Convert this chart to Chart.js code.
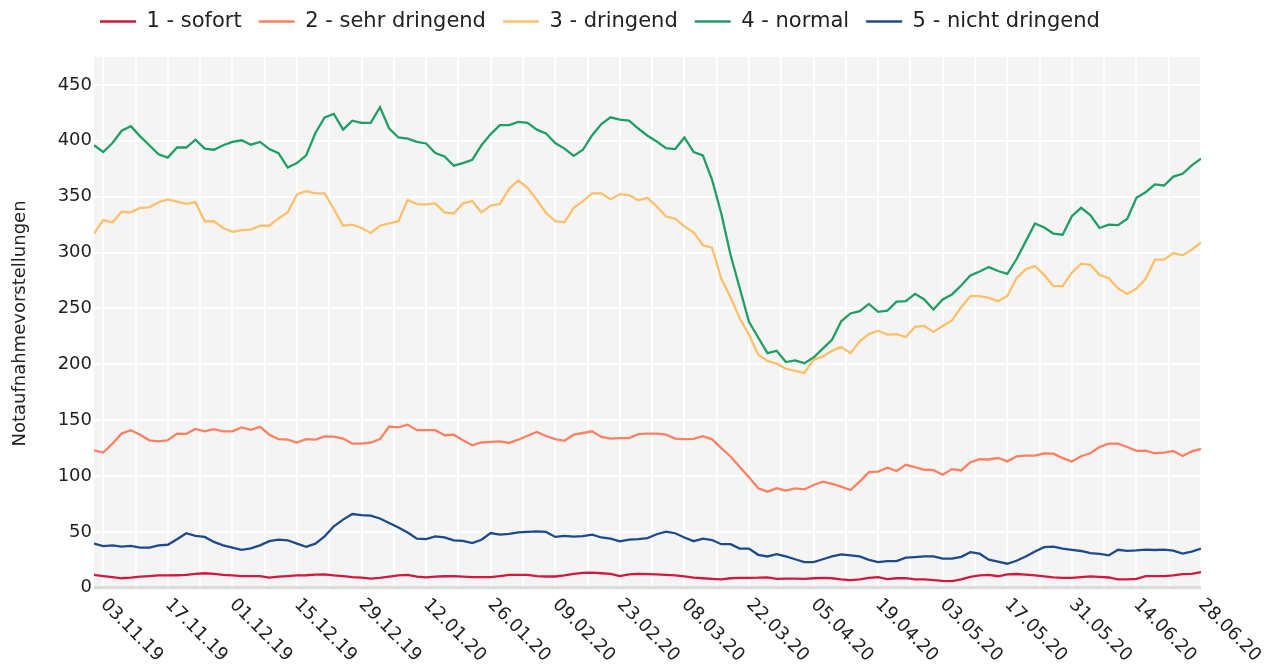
<!DOCTYPE html>
<html>
<head>
<meta charset="utf-8">
<script src="https://cdn.jsdelivr.net/npm/chart.js@4.4.1/dist/chart.umd.min.js"></script>
<style>
  html, body { margin: 0; padding: 0; background: #fff; }
  #wrap { position: relative; width: 1272px; height: 666px; }
</style>
</head>
<body>
<div id="wrap"><canvas id="chart"></canvas></div>
<script>
// ── DATA ──────────────────────────────────────────────────────────────────
// x = days relative to 03.11.19, one value every 2 days from 01.11.19 to 28.06.20
const firstDay = -2;
const dayStep  = 2;

const sofort = [
  11.5, 10.5, 9.5, 8.5, 9, 10, 10.5, 11, 11, 11.2, 11.5, 12.5, 13, 12.5, 11.5, 11, 10.5, 10.5, 10.5, 9, 10, 10.5, 11, 11.2, 11.8, 12, 11, 10.5, 9.5, 9,
  8.2, 8.8, 10, 11, 11.5, 10, 9.3, 10, 10.3, 10.4, 10, 9.6, 9.5, 9.5, 10.5, 11.5, 11.6, 11.6, 10.5, 10.1, 10.1, 11, 12.5, 13.3, 13.5, 13, 12.5, 10.5, 12, 12.5,
  12.2, 12, 11.5, 11, 10.2, 9, 8.5, 8, 7.5, 8.5, 8.9, 8.9, 9, 9.3, 8, 8.2, 8.2, 8, 8.5, 8.9, 8.5, 7.5, 6.8, 7.5, 8.8, 9.5, 7.8, 8.5, 8.6, 7.5,
  7.5, 6.8, 6.2, 6, 7.5, 9.8, 11, 11.5, 10.3, 11.9, 12.3, 11.8, 11, 10.1, 9.3, 8.9, 8.9, 9.5, 10.2, 9.8, 9.2, 7.5, 7.5, 8, 10.4, 10.4, 10.4, 11, 12.2, 12.5, 14
];
const sehrDringend = [
  123, 121, 129, 138, 141, 137, 132, 131, 132, 138, 137.8, 142.2, 140, 142, 140, 140, 143.5, 141.3, 144, 137, 133, 132.5, 130, 133, 132.6, 135.5, 135.3, 133.5, 129, 129,
  130, 133, 144.3, 143.5, 146, 141, 141, 141, 136.5, 137, 132, 127.5, 130, 130.5, 131, 129.6, 132.5, 136, 139.5, 135.8, 133, 131.5, 137, 138.5, 140, 135, 133.5, 134, 134, 137.5,
  138, 138, 137, 133.5, 133, 133.3, 135.6, 132.8, 125, 117.5, 108, 99, 89, 86, 89, 87, 89, 88, 92, 95, 93, 90.5, 87.5, 95, 103.5, 104, 107.5, 104.5, 110, 108,
  105.6, 105.3, 101.2, 106.2, 105, 112.4, 115, 114.8, 116.1, 113.1, 117.5, 118.2, 118.2, 120.3, 120, 116, 113, 117.7, 120.4, 126, 129, 129, 126, 122.5, 122.8, 120.4, 121, 122.5, 118, 122, 124.2
];
const dringend = [
  317, 329, 327, 336.5, 336, 340, 340.5, 345, 347.5, 345.5, 343.5, 345, 328, 328, 322, 318.5, 320, 320.5, 324, 324, 330.5, 336, 352, 355, 353, 353, 339, 324, 325, 322,
  317.5, 324, 326, 328, 347, 343.3, 343, 344, 336, 335, 344, 346, 336, 342, 343.5, 357, 364.5, 358, 347, 335.5, 328, 327, 340, 346, 353, 353, 347.5, 352.3, 351.5, 346.8,
  349, 341.2, 332.3, 330.3, 323.4, 318, 306.5, 304.4, 276.5, 260, 241, 226.4, 208.6, 203, 200.5, 196, 194, 192.3, 204, 207, 212, 215.7, 210, 220.5, 227, 230, 226.5, 227, 224.5, 233.5,
  234.3, 229, 234.3, 239.3, 251, 261, 261, 259.5, 256.5, 261, 277, 285, 288, 280, 270, 270, 282, 290, 289, 280, 277, 268, 263, 267.8, 276.5, 293.6, 293.6, 299.5, 297.5, 302.6, 309
];
const normal = [
  396, 390, 398, 409, 413, 404, 396, 388, 385, 394, 394, 401, 393, 392, 396, 399, 400.5, 396.5, 399, 392.6, 389, 376, 380, 387, 407, 421, 424, 410, 418, 416,
  416, 430, 411, 403, 402, 399, 397.6, 389, 386, 377.7, 380, 383, 396, 406, 414, 414, 417, 416, 410, 406.5, 398, 393, 386.5, 392, 405, 415, 421, 419, 418, 411,
  404.5, 399.4, 393.5, 392.6, 403, 390, 387, 365, 335, 298, 268, 238, 224, 210, 212, 202, 203.5, 201, 206, 214, 222, 238.5, 245.5, 247.5, 254, 247, 248, 256, 256.5, 263,
  258, 249, 258, 262.5, 270.5, 279.5, 283, 287, 283.5, 281, 294, 310, 326, 322.4, 317, 316, 332.5, 340, 333.5, 322, 325, 324.5, 330, 349, 354, 361, 360, 368, 370.5, 378, 384
];
const nichtDringend = [
  39.5, 37.2, 38, 36.8, 37.5, 36, 36, 38, 38.5, 43.5, 48.8, 46.5, 45.5, 41, 38, 36, 34, 35.3, 38, 41.7, 43, 42.5, 39.5, 36.7, 39.5, 46, 55, 61, 66, 65,
  64.5, 62, 58, 54, 49.5, 44, 43.5, 46, 45, 42.5, 42, 40, 43, 49, 47.5, 48.3, 49.5, 50, 50.5, 50, 45.5, 46.5, 45.8, 46.3, 47.5, 45, 44, 41.5, 43, 43.5,
  44.5, 47.9, 50.3, 48.8, 45, 41.7, 44, 42.7, 39, 39, 35, 35, 29.5, 28, 30, 28, 25.5, 23, 23, 25.5, 28, 29.9, 29, 28, 25, 23, 23.9, 23.9, 27, 27.5,
  28.1, 28.1, 26, 26, 27.7, 31.8, 30.5, 25.1, 23.3, 21.5, 24.2, 28, 32.4, 36.3, 36.8, 35, 34, 32.9, 31, 30.3, 29, 34, 33, 33.5, 34.2, 33.8, 34.1, 33.2, 30.6, 32.4, 35
];

const seriesLabels = ['1 - sofort', '2 - sehr dringend', '3 - dringend', '4 - normal', '5 - nicht dringend'];
const seriesColors = ['#d3173f', '#ff8061', '#fdc06a', '#1f9f63', '#1d4a8b'];
const seriesValues = [sofort, sehrDringend, dringend, normal, nichtDringend];

const tickDays   = [0, 14, 28, 42, 56, 70, 84, 98, 112, 126, 140, 154, 168, 182, 196, 210, 224, 238];
const tickLabels = ['03.11.19', '17.11.19', '01.12.19', '15.12.19', '29.12.19', '12.01.20', '26.01.20', '09.02.20',
                    '23.02.20', '08.03.20', '22.03.20', '05.04.20', '19.04.20', '03.05.20', '17.05.20', '31.05.20',
                    '14.06.20', '28.06.20'];
const yTicks = [0, 50, 100, 150, 200, 250, 300, 350, 400, 450];

const days = sofort.map((_, i) => firstDay + i * dayStep);

// ── LOOK ──────────────────────────────────────────────────────────────────
const FONT      = '"DejaVu Sans", Verdana, sans-serif';
const TEXT      = '#222';
const PLOT_BG   = '#f4f4f4';
const ZERO_LINE = '#dcdcdc';

// grey plot area behind the grid
const plotBg = {
  id: 'plotBg',
  beforeDraw(chart) {
    const { ctx, chartArea: a } = chart;
    ctx.save();
    ctx.fillStyle = PLOT_BG;
    ctx.fillRect(a.left, a.top, a.right - a.left, a.bottom - a.top);
    ctx.restore();
  }
};

// legend box: fixed height, nudged right/up like the original
const legendPlace = {
  id: 'legendPlace',
  beforeLayout(chart) {
    const lg = chart.legend;
    if (lg && !lg._fitPatched) {
      const fit = lg.fit;
      lg.fit = function () { fit.call(this); this.height = 57; };
      lg._fitPatched = true;
    }
  },
  afterLayout(chart) {
    chart.legend.left = 83;
    chart.legend.top = -6;
  }
};

// date labels, rotated 45deg downwards and starting at the tick
const xLabels = {
  id: 'xLabels',
  afterDraw(chart) {
    const xs = chart.scales.x;
    const ctx = chart.ctx;
    ctx.save();
    ctx.font = '18px ' + FONT;
    ctx.fillStyle = TEXT;
    ctx.textAlign = 'left';
    ctx.textBaseline = 'middle';
    tickDays.forEach((d, i) => {
      ctx.save();
      ctx.translate(xs.getPixelForValue(d), xs.top + 12);
      ctx.rotate(Math.PI / 4);
      ctx.fillText(tickLabels[i], 0, 0);
      ctx.restore();
    });
    ctx.restore();
  }
};

// ── CHART ─────────────────────────────────────────────────────────────────
const isZero = c => c.tick && c.tick.value === 0;

new Chart(document.getElementById('chart'), {
  type: 'line',
  data: {
    datasets: seriesValues.map((vals, k) => ({
      label:           seriesLabels[k],
      data:            vals.map((v, i) => ({ x: days[i], y: v })),
      borderColor:     seriesColors[k],
      backgroundColor: seriesColors[k],
      borderWidth:     2.3,
      pointRadius:     0,
      tension:         0,
      fill:            false
    }))
  },
  options: {
    responsive:          true,
    maintainAspectRatio: false,
    animation:           false,
    layout: { padding: { left: 0, right: 71, top: 0, bottom: 0 } },
    plugins: {
      legend: {
        position: 'top',
        align:    'start',
        labels: {
          usePointStyle:   true,
          pointStyle:      'line',
          pointStyleWidth: 36,
          padding:         17,
          color:           TEXT,
          font:            { family: FONT, size: 21 }
        }
      },
      tooltip: { enabled: false }
    },
    scales: {
      x: {
        type: 'linear',
        min:  firstDay,
        max:  238,
        afterBuildTicks: s => {
          const t = [];
          for (let d = 0; d <= 238; d += 7) t.push({ value: d });
          s.ticks = t;
        },
        afterFit: s => { s.height = 76; },
        ticks:  { display: false },
        grid:   { color: '#fff', lineWidth: 2, drawTicks: false },
        border: { display: false }
      },
      y: {
        min: -2,
        max: 475,
        afterBuildTicks: s => { s.ticks = yTicks.map(v => ({ value: v })); },
        afterFit: s => { s.width = 94; },
        ticks:  { padding: 2, color: TEXT, font: { family: FONT, size: 18 } },
        grid: {
          color:     c => isZero(c) ? ZERO_LINE : '#fff',
          lineWidth: c => isZero(c) ? 3 : 2,
          drawTicks: false
        },
        border: { display: false },
        title: {
          display: true,
          text:    'Notaufnahmevorstellungen',
          color:   TEXT,
          font:    { family: FONT, size: 18 },
          padding: { top: 10, bottom: 0 }
        }
      }
    }
  },
  plugins: [plotBg, legendPlace, xLabels]
});
</script>
</body>
</html>
